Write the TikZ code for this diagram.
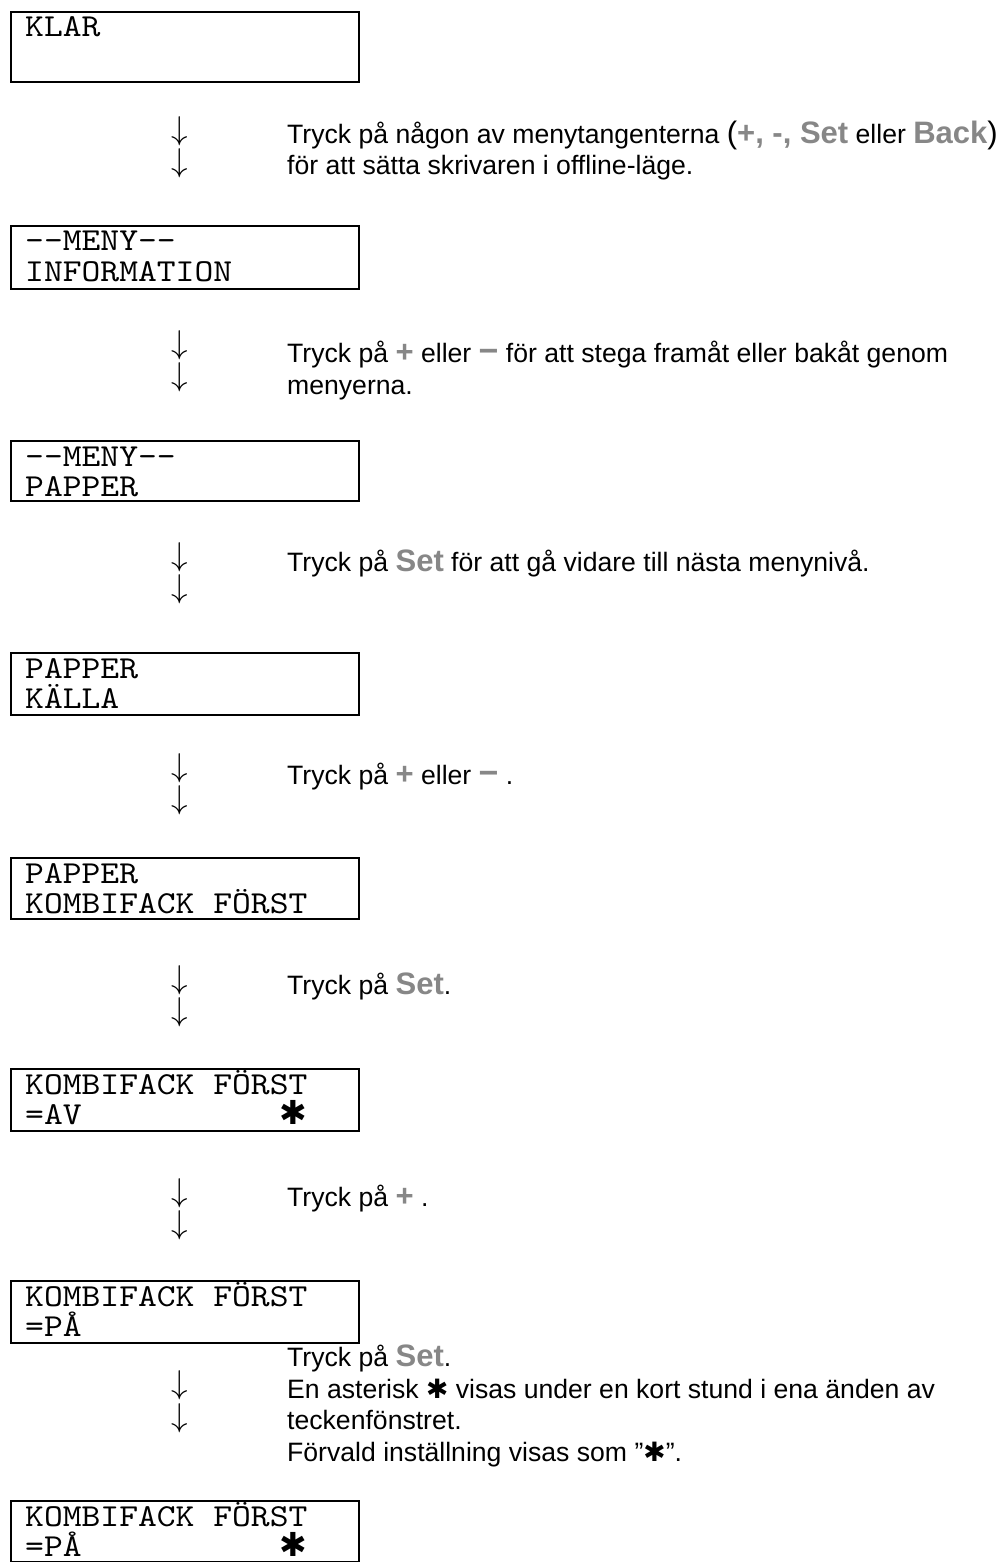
\RequirePackage{fix-cm}
\documentclass[tikz,border=0pt]{standalone}
\usepackage{fontspec}
\setmainfont{Liberation Sans}
\newfontfamily\symfont{DejaVu Sans}
\newfontfamily\lcdfont{lmmono10-regular.otf}[FakeStretch=1.12]
\usepackage{tikz}
\usetikzlibrary{positioning}
\definecolor{keygray}{RGB}{135,135,135}
\newcommand{\keyname}[1]{{\fontsize{31}{31.5}\selectfont\bfseries\color{keygray}#1}}
\newcommand{\keydash}{{\fontsize{34}{31.5}\selectfont\bfseries\color{keygray}−}}
\newcommand{\bigparen}[1]{{\fontsize{31}{31.5}\selectfont #1}}
\newcommand{\staricon}{{\symfont ✱}}
\newcommand{\lcddash}{-\kern0pt-}

\begin{document}
\begin{tikzpicture}[x=1pt,y=-1pt,
  lcdbox/.style={draw, line width=1.8pt, minimum width=348pt, minimum height=62pt, anchor=north west, inner sep=0pt},
  lcdline/.style={anchor=base west, inner sep=0pt, font=\fontsize{32}{30}\selectfont\lcdfont},
  lcdstar/.style={anchor=base, inner sep=0pt, font=\fontsize{33}{30}\selectfont},
  stepnote/.style={anchor=base west, inner sep=0pt, align=left, font=\fontsize{26.6}{31.5}\selectfont},
  downmark/.style={inner sep=0pt, font=\fontsize{33}{33}\selectfont}]
\useasboundingbox (0,0) rectangle (1006,1562);

% display boxes
\node[lcdbox, minimum height=70pt] (klar) at (10,11) {};
\node[lcdline] (klar1) at ([xshift=15pt,yshift=-26pt]klar.north west) {KLAR};

\node[lcdbox, minimum height=63pt] (info) at (10,225) {};
\node[lcdline] (info1) at ([xshift=15pt,yshift=-26pt]info.north west) {\lcddash MENY\lcddash};
\node[lcdline] (info2) at ([xshift=15pt,yshift=-56pt]info.north west) {INFORMATION};

\node[lcdbox, minimum height=60pt] (papper) at (10,440) {};
\node[lcdline] (papper1) at ([xshift=15pt,yshift=-26pt]papper.north west) {\lcddash MENY\lcddash};
\node[lcdline] (papper2) at ([xshift=15pt,yshift=-56pt]papper.north west) {PAPPER};

\node[lcdbox] (kalla) at (10,652) {};
\node[lcdline] (kalla1) at ([xshift=15pt,yshift=-26pt]kalla.north west) {PAPPER};
\node[lcdline] (kalla2) at ([xshift=15pt,yshift=-56pt]kalla.north west) {KÄLLA};

\node[lcdbox, minimum height=61pt] (kombi) at (10,857) {};
\node[lcdline] (kombi1) at ([xshift=15pt,yshift=-26pt]kombi.north west) {PAPPER};
\node[lcdline] (kombi2) at ([xshift=15pt,yshift=-56pt]kombi.north west) {KOMBIFACK FÖRST};

\node[lcdbox] (av) at (10,1068) {};
\node[lcdline] (av1) at ([xshift=15pt,yshift=-26pt]av.north west) {KOMBIFACK FÖRST};
\node[lcdline] (av2) at ([xshift=15pt,yshift=-56pt]av.north west) {=AV};
\node[lcdstar] (avstar) at ([xshift=283pt,yshift=-56pt]av.north west) {\staricon};

\node[lcdbox] (pa) at (10,1280) {};
\node[lcdline] (pa1) at ([xshift=15pt,yshift=-26pt]pa.north west) {KOMBIFACK FÖRST};
\node[lcdline] (pa2) at ([xshift=15pt,yshift=-56pt]pa.north west) {=PÅ};

\node[lcdbox, minimum height=61pt] (pastar) at (10,1500) {};
\node[lcdline] (pastar1) at ([xshift=15pt,yshift=-26pt]pastar.north west) {KOMBIFACK FÖRST};
\node[lcdline] (pastar2) at ([xshift=15pt,yshift=-56pt]pastar.north west) {=PÅ};
\node[lcdstar] (pastarmark) at ([xshift=283pt,yshift=-56pt]pastar.north west) {\staricon};

% arrows between the displays
\foreach \y [count=\i] in {131,345,557,768,980,1193,1385}{
  \node[downmark] (up\i) at (180,\y) {$\downarrow$};
  \node[downmark, below=3pt of up\i] (dn\i) {$\downarrow$};
}

% instructions (anchored on the last line)
\node[stepnote] (note1) at (287,175) {Tryck på någon av menytangenterna \bigparen{(}\keyname{+, -, Set} eller \keyname{Back}\bigparen{)}\\för att sätta skrivaren i offline-läge.};
\node[stepnote] (note2) at (287,394) {Tryck på \keyname{+} eller \keydash{} för att stega framåt eller bakåt genom\\menyerna.};
\node[stepnote] (note3) at (287,571) {Tryck på \keyname{Set} för att gå vidare till nästa menynivå.};
\node[stepnote] (note4) at (287,784) {Tryck på \keyname{+} eller \keydash{} .};
\node[stepnote] (note5) at (287,994) {Tryck på \keyname{Set}.};
\node[stepnote] (note6) at (287,1206) {Tryck på \keyname{+} .};
\node[stepnote] (note7) at (287,1461) {Tryck på \keyname{Set}.\\En asterisk \staricon{} visas under en kort stund i ena änden av\\teckenfönstret.\\Förvald inställning visas som ”\staricon”.};
\end{tikzpicture}
\end{document}
